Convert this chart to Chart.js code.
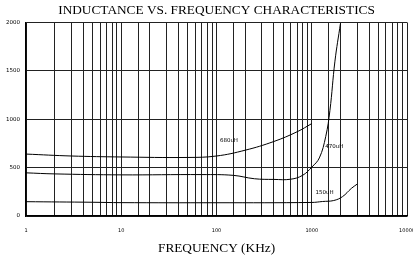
<!DOCTYPE html>
<html lang="en">
<head>
    <meta charset="UTF-8">
    <title>Inductance vs. Frequency</title>
    <script src="https://cdn.jsdelivr.net/npm/chart.js"></script>
    <style>
        html, body { margin: 0; padding: 0; background: #fff; overflow: hidden; }
    </style>
</head>
<body>
    <canvas id="chart" width="427" height="258"></canvas>

    <script>
        // frequency in KHz, inductance in uH
        const freq680 = [1, 3, 10, 50, 100, 200, 400, 700, 1000];
        const ind680 = [640, 620, 610, 605, 620, 680, 770, 870, 955];

        const freq470 = [1, 2, 10, 70, 150, 250, 400, 600, 800, 1000, 1200, 1400, 1550, 1750, 2000];
        const ind470 = [446, 435, 425, 428, 420, 385, 378, 380, 420, 505, 600, 820, 1090, 1600, 1990];

        const freq150 = [1, 5, 10, 100, 1000, 1300, 1700, 2100, 2600, 3000];
        const ind150 = [148, 142, 138, 137, 140, 150, 160, 200, 285, 330];

        const curveNames = ['680uH', '470uH', '150uH'];
        const labelFreq = [135, 1720, 1365];
        const labelInd = [783, 722, 240];

        const toPoints = (xs, ys) => xs.map((x, i) => ({ x: x, y: ys[i] }));

        const curveLabels = {
            id: 'curveLabels',
            afterDatasetsDraw(chart) {
                const ctx = chart.ctx;
                const xs = chart.scales.x, ys = chart.scales.y;
                ctx.save();
                ctx.font = '5.5px "DejaVu Sans"';
                ctx.fillStyle = '#000';
                ctx.textAlign = 'center';
                ctx.textBaseline = 'middle';
                curveNames.forEach((name, i) => {
                    ctx.fillText(name, xs.getPixelForValue(labelFreq[i]), ys.getPixelForValue(labelInd[i]));
                });
                ctx.restore();
            }
        };

        const lineStyle = { borderColor: '#000', borderWidth: 1, pointRadius: 0, tension: 0.4, fill: false };

        new Chart(document.getElementById('chart'), {
            type: 'line',
            data: {
                datasets: [
                    Object.assign({ label: '680uH', data: toPoints(freq680, ind680) }, lineStyle),
                    Object.assign({ label: '470uH', data: toPoints(freq470, ind470) }, lineStyle),
                    Object.assign({ label: '150uH', data: toPoints(freq150, ind150) }, lineStyle)
                ]
            },
            options: {
                responsive: false,
                animation: false,
                layout: { padding: { left: 0, right: 0, top: 0, bottom: 2 } },
                plugins: {
                    legend: { display: false },
                    tooltip: { enabled: false },
                    title: {
                        display: true,
                        fullSize: false,
                        text: 'INDUCTANCE VS. FREQUENCY CHARACTERISTICS',
                        color: '#000',
                        font: { family: '"Liberation Serif"', size: 13.3, weight: 'normal' },
                        padding: { top: 3, bottom: 3.5 }
                    }
                },
                scales: {
                    x: {
                        type: 'logarithmic',
                        min: 1,
                        max: 10000,
                        grid: { color: '#222', lineWidth: 1, drawTicks: false },
                        border: { color: '#000', width: 1.5 },
                        ticks: {
                            autoSkip: false,
                            maxRotation: 0,
                            color: '#000',
                            padding: 12,
                            font: { family: '"DejaVu Sans"', size: 5 },
                            callback: (v) => {
                                const e = Math.log10(v);
                                return Math.abs(e - Math.round(e)) < 1e-9 ? String(v) : '';
                            }
                        },
                        title: {
                            display: true,
                            text: 'FREQUENCY (KHz)',
                            color: '#000',
                            font: { family: '"Liberation Serif"', size: 13.3 },
                            padding: { top: 6, bottom: 0 }
                        },
                        afterFit: (scale) => { scale.height = 40; }
                    },
                    y: {
                        min: 0,
                        max: 2000,
                        grid: { color: '#222', lineWidth: 1, drawTicks: false },
                        border: { color: '#000', width: 1.5 },
                        ticks: {
                            stepSize: 500,
                            color: '#000',
                            padding: 6,
                            font: { family: '"DejaVu Sans"', size: 5.5 },
                            callback: (v) => String(v)
                        },
                        afterFit: (scale) => { scale.width = 26; }
                    }
                }
            },
            plugins: [curveLabels]
        });
    </script>
</body>
</html>
